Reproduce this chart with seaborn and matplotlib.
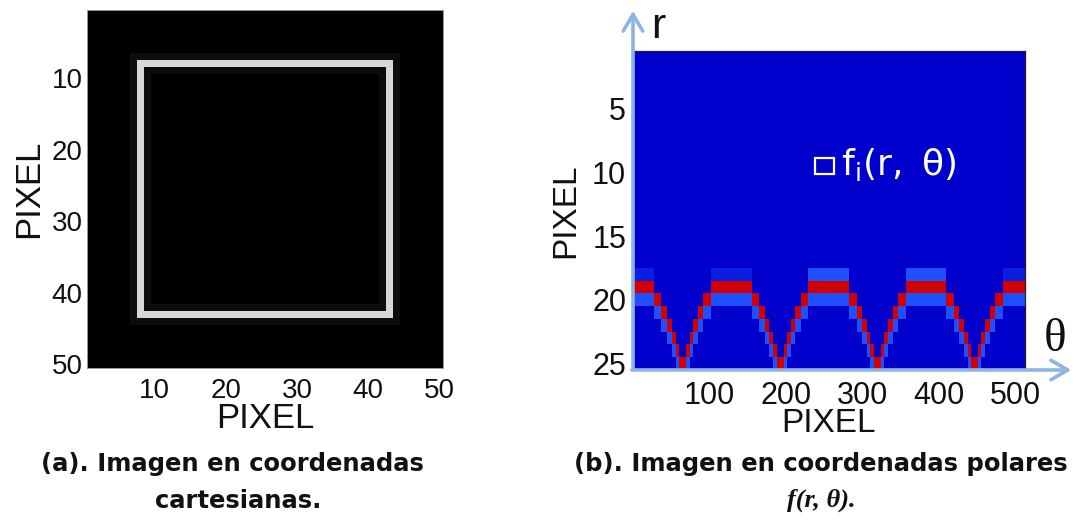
import numpy as np
import matplotlib
matplotlib.use("Agg")
import matplotlib.pyplot as plt
from matplotlib.colors import ListedColormap
from matplotlib.patches import Rectangle, FancyArrowPatch
import seaborn as sns

sns.set_theme(style="white")
plt.rcParams["font.family"] = ["Liberation Sans", "DejaVu Sans"]
plt.rcParams["mathtext.fontset"] = "dejavusans"

# ---------------- (a) cartesian image, 50 x 50 pixels ----------------
cart_size = 50
square_first = 8      # first pixel of the bright outline (1-based)
square_last = 43      # last pixel of the outline
outline_level = 0.84
halo_level = 0.05
cart_ticks = [10, 20, 30, 40, 50]

# ---------------- (b) polar image, 25 radii x 512 angles ----------------
polar_rows = 25
polar_cols = 512
# the red edge, one run per step: radius row of the run and the column where it ends
edge_rows = [19, 20, 21, 22, 23, 24, 25, 24, 23, 22, 21, 20,
             19, 20, 21, 22, 23, 24, 25, 24, 23, 22, 21, 20,
             19, 20, 21, 22, 23, 24, 25, 24, 23, 22, 21, 20,
             19, 20, 21, 22, 23, 24, 25, 24, 23, 22, 21, 20, 19]
edge_ends = [27, 37, 45, 51, 56, 60, 69, 74, 79, 85, 91, 102,
             155, 165, 172, 178, 183, 188, 197, 201, 206, 212, 219, 229,
             282, 292, 299, 305, 310, 315, 324, 328, 333, 339, 346, 356,
             409, 419, 426, 432, 437, 442, 451, 455, 460, 466, 473, 483, 512]
# shade of the row just above each flat stretch (1 faint, 2 light blue)
cap_levels = [1, 1, 2, 2, 1]
polar_yticks = [5, 10, 15, 20, 25]
polar_xticks = [100, 200, 300, 400, 500]

# ---- build the cartesian matrix ----
idx = np.arange(cart_size)
yy, xx = np.meshgrid(idx, idx, indexing="ij")


def ring(a, b):
    outer = (yy >= a) & (yy <= b) & (xx >= a) & (xx <= b)
    inner = (yy > a) & (yy < b) & (xx > a) & (xx < b)
    return outer & ~inner


lo, hi = square_first - 1, square_last - 1
cart = np.zeros((cart_size, cart_size))
cart[ring(lo - 1, hi + 1)] = halo_level
cart[ring(lo + 1, hi - 1)] = halo_level
cart[ring(lo, hi)] = outline_level

# ---- build the polar matrix (0 background, 1 faint, 2 light blue, 3 red) ----
polar = np.zeros((polar_rows, polar_cols))
start = 0
flat = 0
for r, end in zip(edge_rows, edge_ends):
    polar[r - 1, start:end] = 3
    if r < polar_rows:
        polar[r, start:end] = np.maximum(polar[r, start:end], 2)
    if r == min(edge_rows):
        polar[r - 2, start:end] = np.maximum(polar[r - 2, start:end], cap_levels[flat])
        flat += 1
    start = end

W, H = 1079, 523
fig = plt.figure(figsize=(W / 100, H / 100), dpi=100)
fig.patch.set_facecolor("white")

# ---------------- left panel ----------------
axL = fig.add_axes([87 / W, 1 - 368 / H, 356 / W, 358 / H])
sns.heatmap(cart, ax=axL, cmap="gray", vmin=0, vmax=1, cbar=False,
            xticklabels=False, yticklabels=False)
axL.set_xticks([v - 0.5 for v in cart_ticks])
axL.set_xticklabels([str(v) for v in cart_ticks])
axL.set_yticks([v - 0.5 for v in cart_ticks])
axL.set_yticklabels([str(v) for v in cart_ticks], rotation=0)
axL.tick_params(axis="both", length=0, labelsize=20, colors="#111111")
axL.tick_params(axis="y", pad=3)
axL.tick_params(axis="x", pad=7)
axL.set_xlabel("PIXEL", fontsize=25, labelpad=-1, color="#111111")
axL.set_ylabel("PIXEL", fontsize=25, labelpad=5, color="#111111")
for s in axL.spines.values():
    s.set_visible(True)
    s.set_color("#9a9a9a")
    s.set_linewidth(0.7)

# ---------------- right panel ----------------
axR = fig.add_axes([633 / W, 1 - 370 / H, 392 / W, 319 / H])
polar_cmap = ListedColormap(["#0000cc", "#0a1ee2", "#1e50ff", "#d20000"])
sns.heatmap(polar, ax=axR, cmap=polar_cmap, vmin=-0.5, vmax=3.5, cbar=False,
            xticklabels=False, yticklabels=False)
axR.set_xticks([v - 0.5 for v in polar_xticks])
axR.set_xticklabels([str(v) for v in polar_xticks])
axR.set_yticks([v - 0.5 for v in polar_yticks])
axR.set_yticklabels([str(v) for v in polar_yticks], rotation=0)
axR.tick_params(axis="both", length=0, labelsize=22, colors="#111111")
axR.tick_params(axis="y", pad=5)
axR.tick_params(axis="x", pad=8)
axR.set_xlabel("PIXEL", fontsize=24, labelpad=-2, color="#111111")
axR.set_ylabel("PIXEL", fontsize=24, labelpad=8, color="#111111")
for side, s in axR.spines.items():
    if side in ("left", "bottom"):
        s.set_visible(False)
    else:
        s.set_visible(True)
        s.set_color("#222222")
        s.set_linewidth(0.9)

# marker box and label inside the polar image
axR.add_patch(Rectangle((238, 8.4), 25, 1.25, fill=False, edgecolor="white",
                        linewidth=1.6))
axR.text(272, 9.75, r"$\mathrm{f_i(r,\ \theta)}$", color="white", fontsize=26,
         ha="left", va="baseline")

# axis arrows r and theta
arrow_col = "#8db4e2"
fig.add_artist(FancyArrowPatch((633 / W, 1 - 372 / H), (633 / W, 1 - 8 / H),
                               transform=fig.transFigure, arrowstyle="->,head_length=0.6,head_width=0.35",
                               mutation_scale=20, color=arrow_col, linewidth=2.6))
fig.add_artist(FancyArrowPatch((629 / W, 1 - 370 / H), (1074 / W, 1 - 370 / H),
                               transform=fig.transFigure, arrowstyle="->,head_length=0.6,head_width=0.35",
                               mutation_scale=20, color=arrow_col, linewidth=2.6))
fig.text(651 / W, 1 - 27 / H, "r", fontsize=31, ha="left", va="center", color="#111111")
fig.text(1055 / W, 1 - 340 / H, "θ", fontsize=34, ha="center", va="center",
         color="#111111", family=["Liberation Serif", "DejaVu Serif"])

# captions
cap_font = dict(fontsize=17.5, fontweight="bold", color="#111111",
                family=["DejaVu Sans"], ha="center", va="center")
fig.text(232 / W, 1 - 464 / H, "(a). Imagen en coordenadas", **cap_font)
fig.text(238 / W, 1 - 501 / H, "cartesianas.", **cap_font)
fig.text(821 / W, 1 - 464 / H, "(b). Imagen en coordenadas polares", **cap_font)
fig.text(821 / W, 1 - 500 / H, "f(r, θ).", fontsize=19, fontweight="bold",
         fontstyle="italic", color="#111111", ha="center", va="center",
         family=["Liberation Serif", "DejaVu Serif"])

fig.savefig("out.png", dpi=100, facecolor="white")
